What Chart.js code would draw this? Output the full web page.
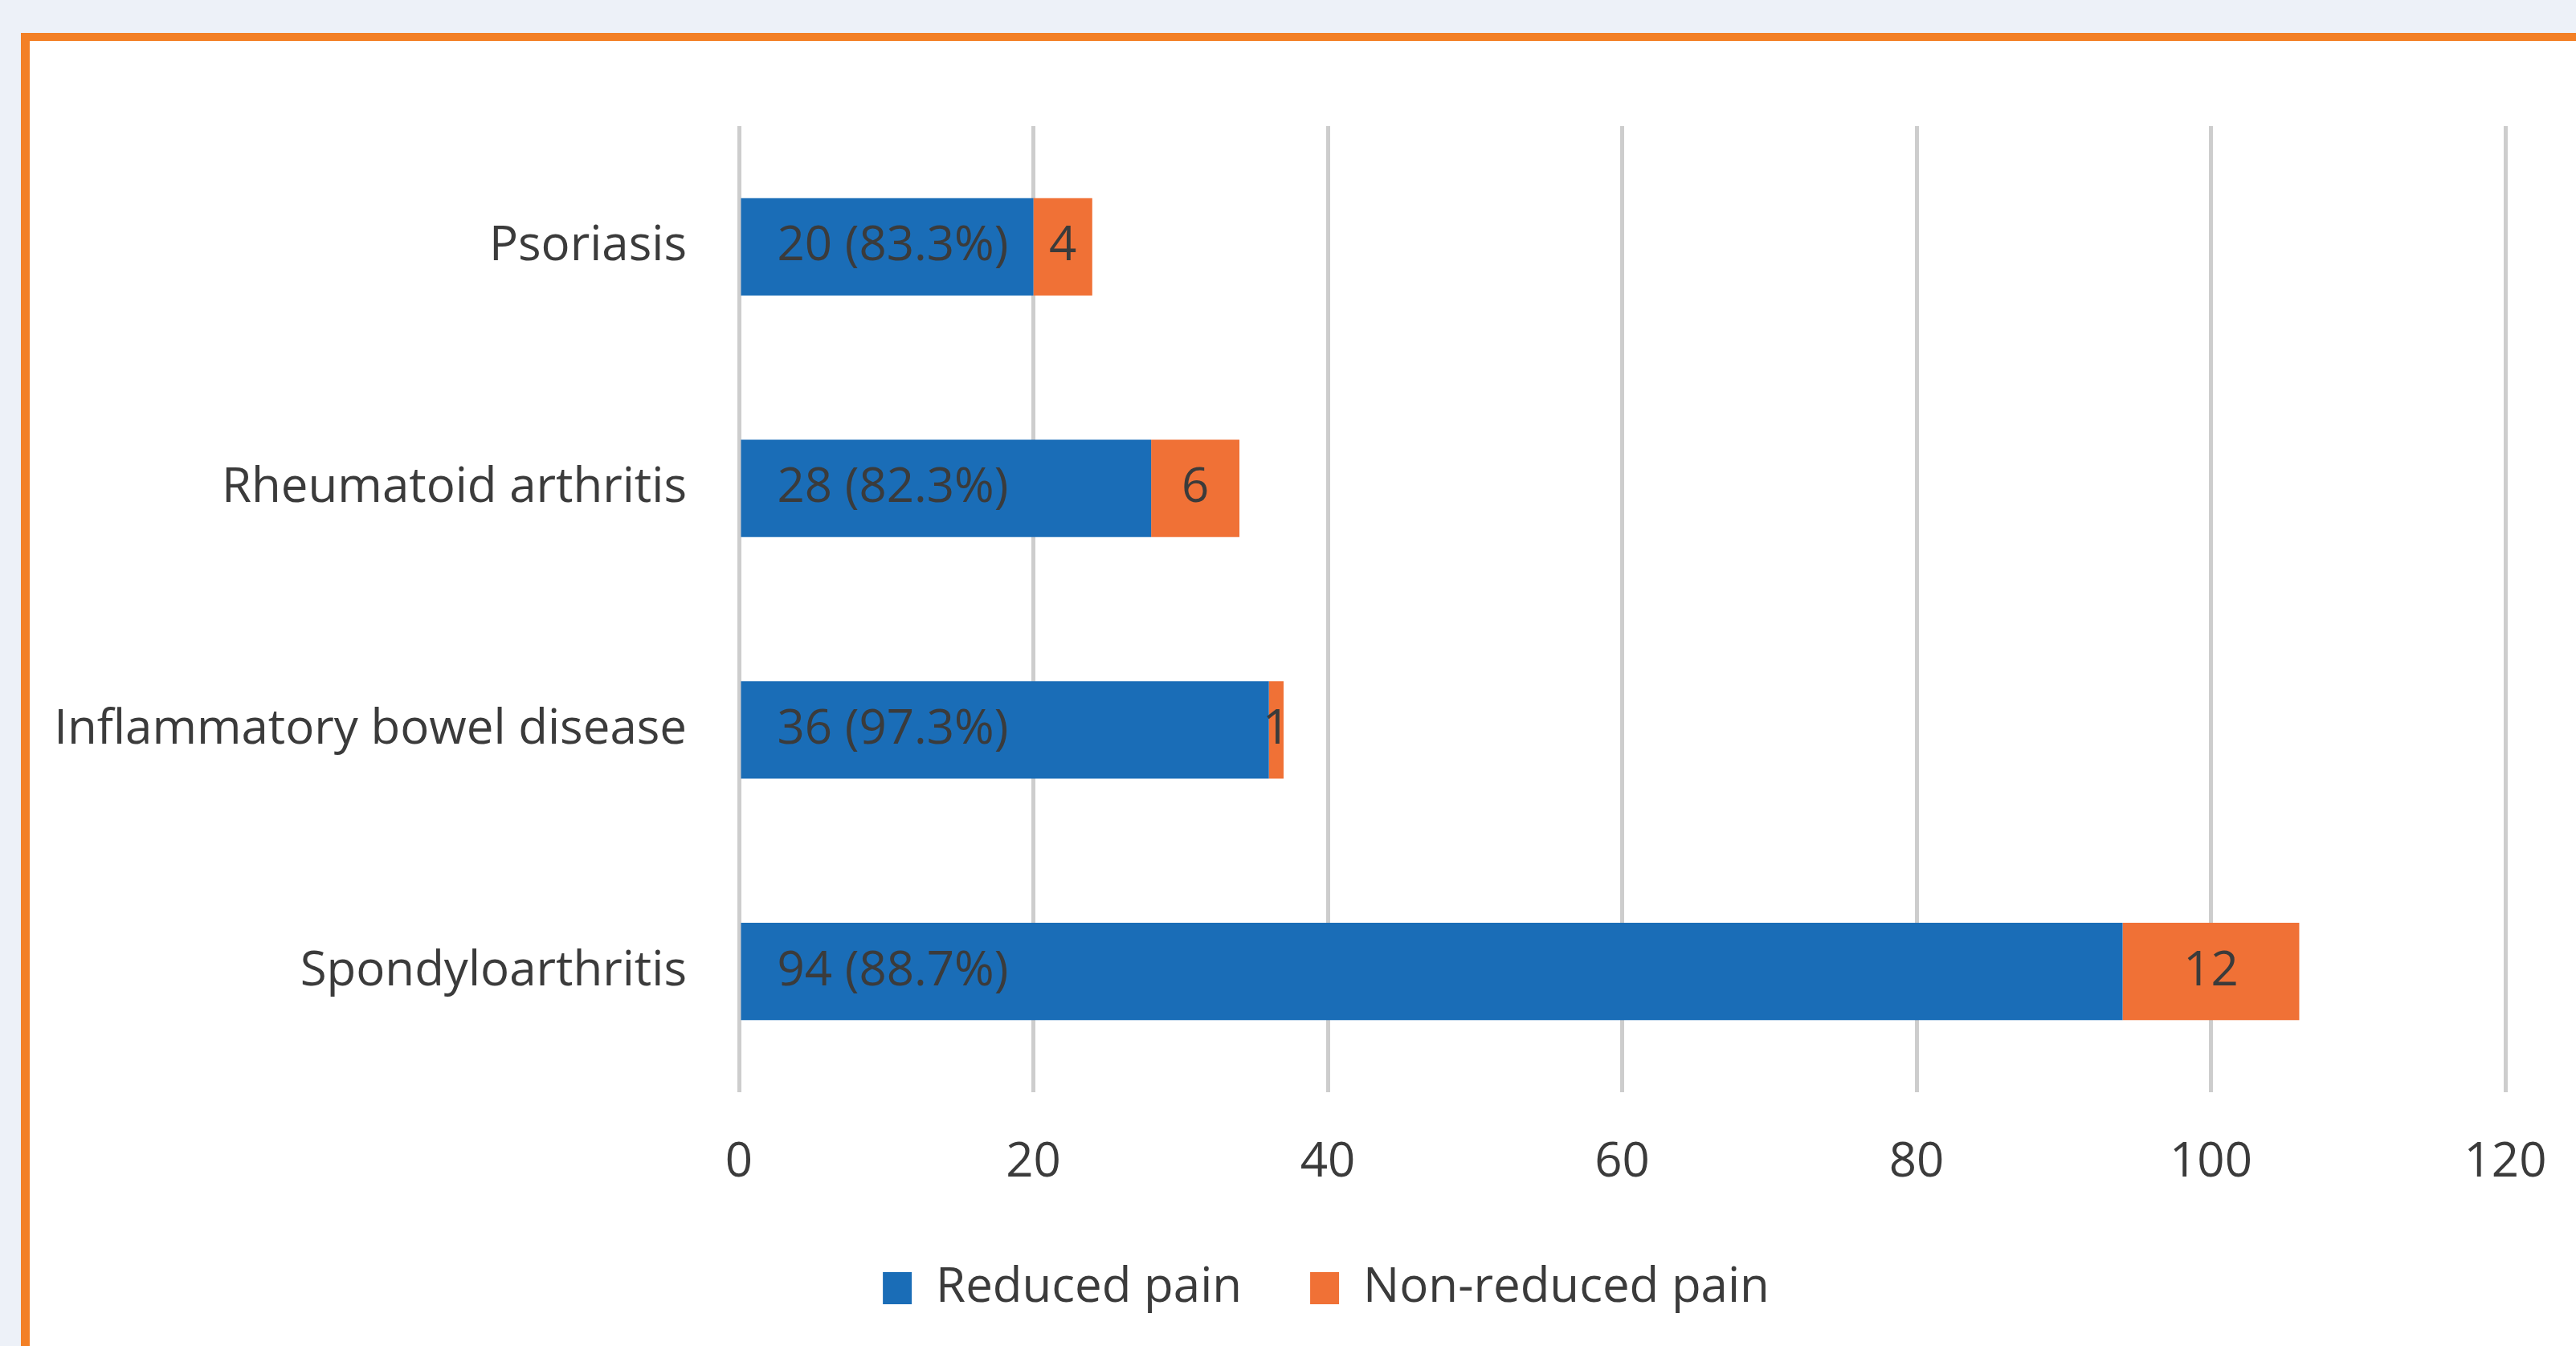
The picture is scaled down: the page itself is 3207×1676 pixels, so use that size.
<!DOCTYPE html>
<html>
<head>
<meta charset="utf-8">
<script src="https://cdn.jsdelivr.net/npm/chart.js@4"></script>
<style>
  html, body { margin: 0; padding: 0; overflow: hidden; background: #EDF1F8; }
  body { width: 3207px; height: 1676px; position: relative; }
  .frame {
    position: absolute; left: 26px; top: 41px; width: 3400px; height: 1800px;
    background: #fff; border-top: 10px solid #F38026; border-left: 11px solid #F38026;
  }
  .wrap { position: absolute; left: 37px; top: 51px; width: 3228px; height: 1593px; }
</style>
</head>
<body>
<div class="frame"></div>
<div class="wrap"><canvas id="barChart"></canvas></div>
<script>
var categories = ['Psoriasis', 'Rheumatoid arthritis', 'Inflammatory bowel disease', 'Spondyloarthritis'];
var reduced = [20, 28, 36, 94];
var reducedPct = [83.3, 82.3, 97.3, 88.7];
var nonReduced = [4, 6, 1, 12];
var xTicks = [0, 20, 40, 60, 80, 100, 120];

var textColor = '#3B3B3B';
var fontFamily = '"Open Sans", sans-serif';
var fontSize = 60;

// labels inside the bars
var barLabels = {
    id: 'barLabels',
    afterDatasetsDraw: function(chart) {
        var ctx = chart.ctx;
        ctx.save();
        ctx.font = fontSize + 'px ' + fontFamily;
        ctx.fillStyle = textColor;
        ctx.textBaseline = 'middle';
        chart.getDatasetMeta(0).data.forEach(function(bar, i) {
            ctx.textAlign = 'left';
            ctx.fillText(reduced[i] + ' (' + reducedPct[i].toFixed(1) + '%)', bar.base + 45, bar.y);
        });
        chart.getDatasetMeta(1).data.forEach(function(bar, i) {
            ctx.textAlign = 'center';
            ctx.fillText(String(nonReduced[i]), (bar.x + bar.base) / 2, bar.y);
        });
        ctx.restore();
    }
};

var ctx = document.getElementById('barChart').getContext('2d');
var myChart = new Chart(ctx, {
    type: 'bar',
    data: {
        labels: categories,
        datasets: [{
            label: 'Reduced pain',
            data: reduced,
            backgroundColor: '#1A6DB7',
            borderWidth: 0,
            barPercentage: 0.403,
            categoryPercentage: 1
        }, {
            label: 'Non-reduced pain',
            data: nonReduced,
            backgroundColor: '#F07136',
            borderWidth: 0,
            barPercentage: 0.403,
            categoryPercentage: 1
        }]
    },
    options: {
        indexAxis: 'y',
        responsive: true,
        maintainAspectRatio: false,
        animation: false,
        layout: {
            padding: { top: 106, left: 0, right: 0, bottom: 0 }
        },
        plugins: {
            tooltip: { enabled: false },
            legend: {
                position: 'bottom',
                labels: {
                    color: textColor,
                    boxWidth: 36,
                    boxHeight: 40,
                    padding: 85,
                    font: { family: fontFamily, size: fontSize }
                }
            }
        },
        scales: {
            x: {
                stacked: true,
                min: 0,
                max: 120,
                afterBuildTicks: function(scale) {
                    scale.ticks = xTicks.map(function(v) { return { value: v }; });
                },
                afterFit: function(scale) { scale.height = 129; },
                grid: { color: '#CDCDCD', lineWidth: 5, drawTicks: false },
                border: { display: false },
                ticks: {
                    color: textColor,
                    padding: 52,
                    font: { family: fontFamily, size: fontSize }
                }
            },
            y: {
                stacked: true,
                afterFit: function(scale) { scale.width = 883; },
                grid: { display: false, drawTicks: false },
                border: { display: false },
                ticks: {
                    color: textColor,
                    padding: 65,
                    font: { family: fontFamily, size: fontSize }
                }
            },
            yRight: {
                type: 'category',
                position: 'right',
                afterFit: function(scale) { scale.width = 146; },
                grid: { display: false, drawTicks: false },
                border: { display: false },
                ticks: { display: false }
            }
        }
    },
    plugins: [barLabels]
});
</script>
</body>
</html>
